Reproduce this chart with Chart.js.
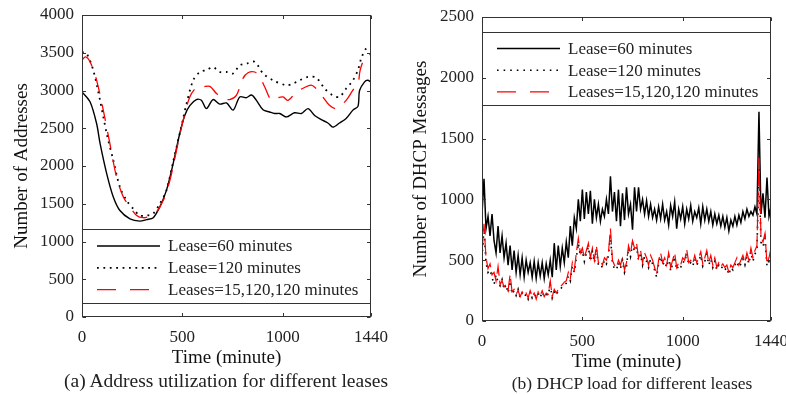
<!DOCTYPE html>
<html>
<head>
<meta charset="utf-8">
<script src="https://cdn.jsdelivr.net/npm/chart.js@4.4.1/dist/chart.umd.min.js"></script>
<style>
  body { margin: 0; background: #fff; width: 786px; height: 395px; position: relative; overflow: hidden;
         font-family: 'Liberation Serif', 'Times New Roman', serif; }
  canvas { position: absolute; top: 0; }
  #addrChart { left: 0; }
  #loadChart { left: 400px; }
  .caption { position: absolute; line-height: 20px; color: #222; white-space: nowrap;
             transform: translateX(-50%); }
</style>
</head>
<body>
<canvas id="addrChart" width="390" height="380"></canvas>
<canvas id="loadChart" width="386" height="380"></canvas>
<div class="caption" style="left:226px; top:371px; font-size:19.5px">(a) Address utilization for different leases</div>
<div class="caption" style="left:632px; top:373px; font-size:17.5px">(b) DHCP load for different leases</div>
<script>
// series labels
var labels = ['Lease=60 minutes', 'Lease=120 minutes', 'Leases=15,120,120 minutes'];
var timeTicks = [0, 500, 1000, 1440];

// (a) number of addresses in use, lease = 60 min
var addrTime60 = [0, 40, 73, 90, 123, 156, 189, 239, 288, 322, 355, 388, 421, 454, 487, 512, 537, 570, 595, 620,
  653, 686, 720, 753, 786, 819, 845, 869, 902, 935, 960, 985, 1018, 1059, 1093, 1126, 1159, 1192, 1225, 1250,
  1283, 1316, 1350, 1375, 1383, 1408, 1424, 1440];
var addr60 = [2980, 2850, 2560, 2300, 1900, 1590, 1410, 1300, 1270, 1290, 1315, 1460, 1680, 2030, 2430, 2670, 2800, 2880, 2870, 2760,
  2880, 2820, 2835, 2740, 2915, 2905, 2940, 2870, 2745, 2715, 2695, 2695, 2650, 2705, 2695, 2760, 2670, 2615, 2570, 2515,
  2570, 2630, 2740, 2790, 3000, 3115, 3135, 3110];

// lease = 120 min
var addrTime120 = [0, 23, 56, 90, 123, 156, 189, 222, 255, 288, 322, 355, 388, 421, 454, 487, 521, 554, 587, 620,
  653, 686, 720, 753, 786, 819, 861, 902, 952, 1018, 1051, 1084, 1126, 1167, 1209, 1250, 1283, 1316, 1350, 1375,
  1391, 1416, 1440];
var addr120 = [3510, 3490, 3270, 2870, 2430, 2075, 1720, 1545, 1435, 1345, 1345, 1370, 1500, 1680, 2055, 2430, 2825, 3135, 3245, 3270,
  3310, 3245, 3245, 3225, 3335, 3355, 3380, 3225, 3135, 3070, 3090, 3135, 3180, 3170, 3025, 2935, 2915, 3025, 3135, 3270,
  3420, 3555, 3535];

// leases = 15,120,120 min
var addrTimeMixed = [0, 17, 40, 73, 106, 139, 172, 206, 239, 272, 305, 338, 371, 405, 438, 471, 504, 537, 570, 603,
  637, 670, 703, 736, 769, 802, 827, 861, 886, 910, 944, 977, 1002, 1027, 1068, 1109, 1142, 1167, 1200, 1233,
  1267, 1316, 1350, 1375, 1386, 1408, 1433, 1440];
var addrMixed = [3400, 3445, 3380, 3135, 2740, 2295, 1855, 1590, 1460, 1345, 1315, 1335, 1390, 1545, 1810, 2210, 2605, 2915, 3040, 3050,
  3055, 2960, 2895, 2880, 2935, 3160, 3235, 3245, 3180, 3050, 2870, 2905, 2915, 2870, 2980, 3040, 3070, 3025, 2915, 2805,
  2760, 2870, 3005, 3090, 3270, 3425, 3475, 3470];

// (b) DHCP messages per 10 minutes
var loadTime = [
  0, 10, 20, 30, 40, 50, 60, 70, 80, 90,
  100, 110, 120, 130, 140, 150, 160, 170, 180, 190,
  200, 210, 220, 230, 240, 250, 260, 270, 280, 290,
  300, 310, 320, 330, 340, 350, 360, 370, 380, 390,
  400, 410, 420, 430, 440, 450, 460, 470, 480, 490,
  500, 510, 520, 530, 540, 550, 560, 570, 580, 590,
  600, 610, 620, 630, 640, 650, 660, 670, 680, 690,
  700, 710, 720, 730, 740, 750, 760, 770, 780, 790,
  800, 810, 820, 830, 840, 850, 860, 870, 880, 890,
  900, 910, 920, 930, 940, 950, 960, 970, 980, 990,
  1000, 1010, 1020, 1030, 1040, 1050, 1060, 1070, 1080, 1090,
  1100, 1110, 1120, 1130, 1140, 1150, 1160, 1170, 1180, 1190,
  1200, 1210, 1220, 1230, 1240, 1250, 1260, 1270, 1280, 1290,
  1300, 1310, 1320, 1330, 1340, 1350, 1360, 1370, 1380, 1390,
  1400, 1410, 1420, 1430, 1440];
var load60 = [
  880, 1170, 760, 860, 700, 880, 660, 560, 780, 560,
  700, 520, 640, 460, 620, 420, 580, 400, 540, 380,
  520, 360, 500, 400, 480, 360, 490, 350, 480, 370,
  480, 350, 470, 380, 500, 360, 640, 420, 620, 450,
  600, 480, 650, 520, 780, 620, 850, 760, 1000, 820,
  1080, 840, 1060, 880, 1070, 800, 1000, 850, 960, 820,
  920, 860, 1000, 880, 1190, 900, 1060, 820, 1080, 780,
  1050, 830, 1100, 880, 960, 750, 1100, 900, 1100, 920,
  1000, 880, 990, 860, 960, 850, 920, 830, 940, 840,
  960, 830, 900, 790, 950, 860, 980, 760, 920, 840,
  940, 800, 920, 840, 950, 820, 900, 850, 930, 800,
  940, 830, 920, 820, 900, 790, 880, 800, 870, 780,
  860, 770, 850, 740, 830, 780, 860, 790, 870, 810,
  900, 840, 920, 860, 900, 870, 940, 880, 1720, 880,
  1050, 850, 1180, 860, 940];
var load120 = [
  520, 760, 480, 400, 420, 360, 300, 380, 320, 290,
  340, 260, 300, 230, 330, 220, 250, 210, 260, 190,
  230, 200, 220, 180, 240, 190, 220, 200, 230, 190,
  240, 200, 220, 210, 300, 190, 240, 210, 250, 260,
  280, 300, 310, 370, 330, 450, 400, 520, 640, 540,
  580, 490, 560, 610, 490, 570, 480, 590, 460, 470,
  440, 500, 470, 540, 700, 470, 430, 420, 480, 430,
  500, 400, 450, 600, 530, 640, 570, 610, 500, 550,
  460, 530, 490, 440, 510, 470, 420, 360, 470, 530,
  460, 490, 440, 530, 410, 470, 530, 420, 460, 440,
  490, 480, 560, 460, 480, 450, 510, 460, 490, 540,
  450, 490, 550, 460, 510, 440, 490, 420, 460, 430,
  450, 420, 440, 380, 440, 420, 460, 490, 440, 470,
  510, 460, 530, 470, 570, 490, 550, 590, 1250, 650,
  610, 680, 450, 490, 560];
var loadMixed = [
  560, 800, 520, 430, 470, 380, 400, 330, 450, 300,
  330, 280, 300, 250, 380, 240, 260, 220, 250, 200,
  240, 210, 230, 190, 250, 200, 230, 180, 240, 210,
  250, 200, 230, 220, 330, 200, 260, 230, 260, 280,
  300, 320, 330, 400, 350, 480, 420, 560, 680, 560,
  600, 520, 580, 640, 520, 600, 500, 620, 480, 500,
  460, 520, 500, 560, 760, 500, 460, 440, 500, 460,
  520, 420, 480, 620, 560, 660, 600, 640, 520, 580,
  480, 560, 520, 460, 540, 500, 440, 380, 500, 560,
  480, 520, 460, 560, 440, 500, 560, 440, 480, 460,
  520, 500, 590, 480, 500, 470, 540, 480, 520, 570,
  470, 520, 580, 480, 540, 460, 520, 440, 480, 450,
  470, 440, 460, 400, 460, 440, 480, 520, 460, 500,
  540, 480, 560, 500, 600, 520, 580, 620, 1340, 700,
  650, 720, 470, 520, 600];

var serif = "'Liberation Serif', 'Times New Roman', serif";
Chart.defaults.font.family = serif;
Chart.defaults.color = '#222';

function toPoints(xs, ys) {
  return xs.map(function (x, i) { return { x: x, y: ys[i] }; });
}

// boxed legend across the plot, frame and inward tick marks
var frameLegend = {
  id: 'frameLegend',
  afterDatasetsDraw: function (chart, args, opts) {
    var ctx = chart.ctx, a = chart.chartArea;
    var L = Math.round(a.left) + 0.5, R = Math.round(a.right) - 0.5;
    var T = Math.round(a.top) + 0.5, B = Math.round(a.bottom) - 0.5;
    ctx.save();

    var boxT = Math.round(a.top + opts.boxTop) + 0.5;
    ctx.fillStyle = '#fff';
    ctx.fillRect(L, boxT, R - L, opts.boxHeight);
    ctx.strokeStyle = '#333';
    ctx.lineWidth = 1;
    ctx.strokeRect(L, boxT, R - L, opts.boxHeight);

    ctx.font = '17px ' + serif;
    ctx.textBaseline = 'middle';
    chart.data.datasets.forEach(function (ds, i) {
      var y = boxT + opts.rowTop + i * opts.rowGap;
      ctx.save();
      ctx.strokeStyle = ds.borderColor;
      ctx.lineWidth = ds.borderWidth;
      ctx.setLineDash(ds.legendDash || ds.borderDash || []);
      ctx.beginPath();
      ctx.moveTo(a.left + 15, y);
      ctx.lineTo(a.left + 78, y);
      ctx.stroke();
      ctx.restore();
      ctx.fillStyle = '#222';
      ctx.fillText(ds.label, a.left + 86, y + 1);
    });

    ctx.strokeStyle = '#333';
    ctx.lineWidth = 1;
    ctx.setLineDash([]);
    ctx.strokeRect(L, T, R - L, B - T);
    var tl = 3.5;
    ctx.beginPath();
    chart.scales.x.ticks.forEach(function (t) {
      var px = Math.round(chart.scales.x.getPixelForValue(t.value)) + 0.5;
      ctx.moveTo(px, B); ctx.lineTo(px, B - tl);
      ctx.moveTo(px, T); ctx.lineTo(px, T + tl);
    });
    chart.scales.y.ticks.forEach(function (t) {
      var py = Math.round(chart.scales.y.getPixelForValue(t.value)) + 0.5;
      ctx.moveTo(L, py); ctx.lineTo(L + tl, py);
      ctx.moveTo(R, py); ctx.lineTo(R - tl, py);
    });
    ctx.stroke();
    ctx.restore();
  }
};

function createLeaseChart(canvas, datasets, yTitle, yMax, box, fit) {
  return new Chart(canvas, {
    type: 'line',
    data: { datasets: datasets },
    plugins: [frameLegend],
    options: {
      responsive: false,
      animation: false,
      layout: { padding: { left: 0, right: fit.right, top: fit.top, bottom: 0 } },
      elements: { point: { radius: 0 } },
      plugins: {
        legend: { display: false },
        tooltip: { enabled: false },
        frameLegend: box
      },
      scales: {
        x: {
          type: 'linear', min: 0, max: 1440,
          afterBuildTicks: function (s) { s.ticks = timeTicks.map(function (v) { return { value: v }; }); },
          afterFit: function (s) { s.height = fit.xHeight; s.paddingLeft = 0; s.paddingRight = 0; },
          grid: { display: false, drawTicks: false },
          border: { display: false },
          ticks: { font: { size: 17 }, padding: 10, maxRotation: 0, autoSkip: false,
                   callback: function (v) { return String(v); } },
          title: { display: true, text: 'Time (minute)', font: { size: 19 }, color: '#111',
                   padding: { top: 0, bottom: fit.xTitle } }
        },
        y: {
          min: 0, max: yMax,
          afterFit: function (s) { s.width = 82; s.paddingTop = 0; s.paddingBottom = 0; },
          grid: { display: false, drawTicks: false },
          border: { display: false },
          ticks: { stepSize: 500, font: { size: 17 }, padding: 8,
                   callback: function (v) { return String(v); } },
          title: { display: true, text: yTitle, font: { size: 19 }, color: '#111',
                   padding: { top: fit.yTitle, bottom: 0 } }
        }
      }
    }
  });
}

createLeaseChart(document.getElementById('addrChart'), [
  { label: labels[0], data: toPoints(addrTime60, addr60), borderColor: '#000', borderWidth: 1.4,
    tension: 0.3, order: 1 },
  { label: labels[1], data: toPoints(addrTime120, addr120), borderColor: '#000', borderWidth: 1.8,
    borderDash: [1.8, 4.6], tension: 0.3, order: 2 },
  { label: labels[2], data: toPoints(addrTimeMixed, addrMixed), borderColor: '#ff0000', borderWidth: 1.3,
    borderDash: [17, 11], legendDash: [19, 14], tension: 0.3, order: 0 }
], 'Number of Addresses', 4000,
  { boxTop: 214, boxHeight: 74, rowTop: 16.5, rowGap: 21.8 },
  { right: 19, top: 15, xHeight: 63, xTitle: 11, yTitle: 11 });

createLeaseChart(document.getElementById('loadChart'), [
  { label: labels[0], data: toPoints(loadTime, load60), borderColor: '#000', borderWidth: 1.5,
    tension: 0, order: 1 },
  { label: labels[1], data: toPoints(loadTime, load120), borderColor: '#000', borderWidth: 1.6,
    borderDash: [1.6, 5], tension: 0, order: 2 },
  { label: labels[2], data: toPoints(loadTime, loadMixed), borderColor: '#ff0000', borderWidth: 1.2,
    borderDash: [17, 5], legendDash: [19, 14], tension: 0, order: 0 }
], 'Number of DHCP Messages', 2500,
  { boxTop: 15, boxHeight: 73, rowTop: 16, rowGap: 21.7 },
  { right: 15, top: 17, xHeight: 59, xTitle: 7, yTitle: 10 });
</script>
</body>
</html>
